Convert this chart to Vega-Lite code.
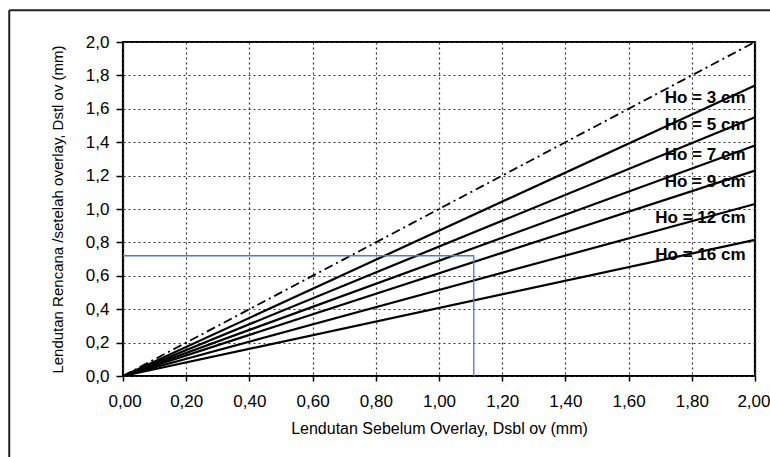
{
  "$schema": "https://vega.github.io/schema/vega-lite/v6.json",
  "autosize": "none",
  "width": 632,
  "height": 334,
  "padding": {"left": 123, "top": 42, "right": 15, "bottom": 81},
  "background": "white",
  "config": {
    "view": {"stroke": "black", "strokeWidth": 2.2},
    "font": "Liberation Sans"
  },
  "datasets": {
    "lines": [
      {"series": "Ho = 3 cm", "x": 0, "y": 0}, {"series": "Ho = 3 cm", "x": 2.0, "y": 1.74},
      {"series": "Ho = 5 cm", "x": 0, "y": 0}, {"series": "Ho = 5 cm", "x": 2.0, "y": 1.55},
      {"series": "Ho = 7 cm", "x": 0, "y": 0}, {"series": "Ho = 7 cm", "x": 2.0, "y": 1.38},
      {"series": "Ho = 9 cm", "x": 0, "y": 0}, {"series": "Ho = 9 cm", "x": 2.0, "y": 1.23},
      {"series": "Ho = 12 cm", "x": 0, "y": 0}, {"series": "Ho = 12 cm", "x": 2.0, "y": 1.03},
      {"series": "Ho = 16 cm", "x": 0, "y": 0}, {"series": "Ho = 16 cm", "x": 2.0, "y": 0.815}
    ],
    "diag": [{"x": 0, "y": 0}, {"x": 2.0, "y": 2.0}],
    "blue": [
      {"o": 1, "x": 0, "y": 0.72},
      {"o": 2, "x": 1.11, "y": 0.72},
      {"o": 3, "x": 1.11, "y": 0}
    ],
    "labels": [
      {"text": "Ho = 3 cm", "x": 1.97, "y": 1.665},
      {"text": "Ho = 5 cm", "x": 1.97, "y": 1.503},
      {"text": "Ho = 7 cm", "x": 1.97, "y": 1.323},
      {"text": "Ho = 9 cm", "x": 1.97, "y": 1.162},
      {"text": "Ho = 12 cm", "x": 1.97, "y": 0.946},
      {"text": "Ho = 16 cm", "x": 1.97, "y": 0.725}
    ],
    "frame": [
      {"x": -0.36, "y": -0.6, "x2": -0.36, "y2": 2.19},
      {"x": -0.36, "y": 2.19, "x2": 2.2, "y2": 2.19}
    ]
  },
  "encoding": {
    "x": {
      "field": "x", "type": "quantitative",
      "scale": {"domain": [0, 2], "nice": false, "zero": true},
      "axis": {
        "values": [0, 0.2, 0.4, 0.6, 0.8, 1.0, 1.2, 1.4, 1.6, 1.8, 2.0],
        "labelExpr": "replace(format(datum.value, '.2f'), '.', ',')",
        "title": "Lendutan Sebelum Overlay, Dsbl ov (mm)",
        "titleFontSize": 16, "titleFontWeight": "normal", "titleColor": "black", "titlePadding": 11,
        "labelFontSize": 17, "labelColor": "black", "labelPadding": 12, "labelOverlap": false,
        "tickColor": "black", "tickSize": 5, "tickWidth": 1.5, "domain": false,
        "grid": true, "gridColor": "#333", "gridDash": [2, 3], "gridWidth": 1.2,
        "labelFlush": true, "labelFlushOffset": 15
      }
    },
    "y": {
      "field": "y", "type": "quantitative",
      "scale": {"domain": [0, 2], "nice": false, "zero": true},
      "axis": {
        "values": [0, 0.2, 0.4, 0.6, 0.8, 1.0, 1.2, 1.4, 1.6, 1.8, 2.0],
        "labelExpr": "replace(format(datum.value, '.1f'), '.', ',')",
        "title": "Lendutan Rencana /setelah overlay, Dstl ov (mm)",
        "titleFontSize": 15, "titleFontWeight": "normal", "titleColor": "black", "titlePadding": 20,
        "labelFontSize": 17, "labelColor": "black", "labelPadding": 7, "labelOverlap": false,
        "tickColor": "black", "tickSize": 7, "tickWidth": 1.5, "domain": false,
        "grid": true, "gridColor": "#333", "gridDash": [2, 3], "gridWidth": 1.2,
        "labelFlush": false
      }
    }
  },
  "layer": [
    {
      "data": {"name": "diag"},
      "mark": {"type": "line", "color": "black", "strokeWidth": 1.8, "strokeDash": [9, 4, 2, 4]},
      "encoding": {}
    },
    {
      "data": {"name": "lines"},
      "mark": {"type": "line", "color": "black", "strokeWidth": 2.2},
      "encoding": {
        "detail": {"field": "series"}
      }
    },
    {
      "data": {"name": "blue"},
      "mark": {"type": "line", "color": "#4a7bd6", "strokeWidth": 1.3},
      "encoding": {
        "order": {"field": "o"}
      }
    },
    {
      "data": {"name": "labels"},
      "mark": {"type": "text", "align": "right", "baseline": "middle", "fontSize": 17, "fontWeight": "bold", "color": "black"},
      "encoding": {
        "text": {"field": "text"}
      }
    },
    {
      "data": {"name": "frame"},
      "mark": {"type": "rule", "color": "#222", "strokeWidth": 2, "clip": false},
      "encoding": {
        "x2": {"field": "x2"},
        "y2": {"field": "y2"}
      }
    }
  ]
}
